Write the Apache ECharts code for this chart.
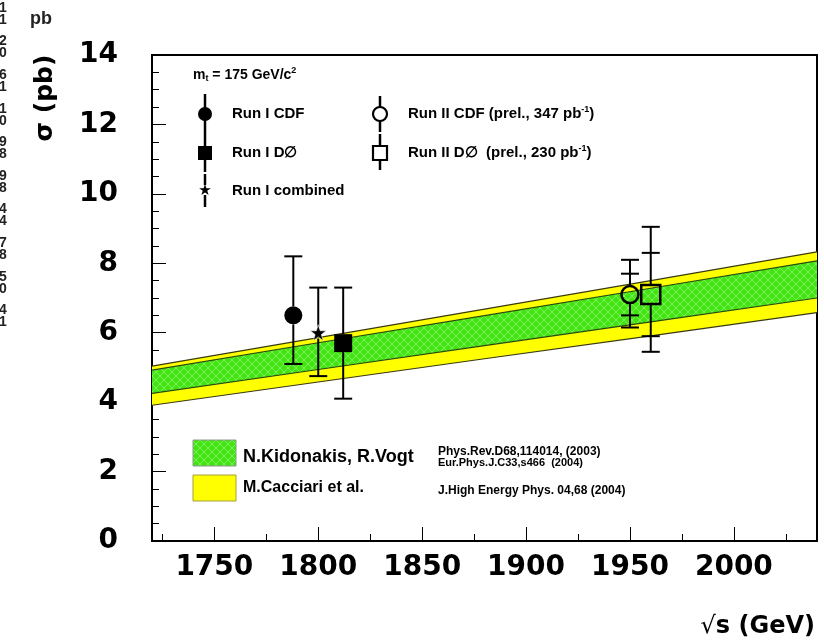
<!DOCTYPE html>
<html>
<head>
<meta charset="utf-8">
<script src="https://cdn.jsdelivr.net/npm/echarts@6/dist/echarts.min.js"></script>
<style>
  html, body { margin: 0; padding: 0; background: #fff; }
  #chart { width: 824px; height: 644px; }
</style>
</head>
<body>
<div id="chart"></div>
<script>
// Top-quark pair production cross section versus centre-of-mass energy

// Theory bands (sigma in pb) sampled along sqrt(s)
const sqrtS       = [1720, 1800, 1880, 1960, 2040];
const cacciariHi  = [5.04, 5.86, 6.68, 7.50, 8.33];
const cacciariLo  = [3.91, 4.58, 5.25, 5.91, 6.58];
const kidonakisHi = [4.92, 5.71, 6.49, 7.28, 8.07];
const kidonakisLo = [4.25, 4.94, 5.63, 6.31, 7.00];

// Measurements (Run I points drawn slightly apart around 1800 GeV)
const pointNames = ['Run I CDF', 'Run I D\u2205', 'Run I combined', 'Run II CDF', 'Run II D\u2205'];
const pointX     = [1788, 1812, 1800, 1950, 1960];
const pointY     = [6.5, 5.7, 6.0, 7.1, 7.1];
const totalLo    = [5.1, 4.1, 4.75, 6.15, 5.45];
const totalHi    = [8.2, 7.3, 7.3, 8.1, 9.05];
const statLo     = [NaN, NaN, NaN, 6.5, 5.9];
const statHi     = [NaN, NaN, NaN, 7.7, 8.3];

// Axis ticks
const xLabelValues = [1750, 1800, 1850, 1900, 1950, 2000];
const xMinorValues = [1725, 1775, 1825, 1875, 1925, 1975, 2025];

// Digits along the left border
const edgeDigits = ['1\n1', '2\n0', '6\n1', '1\n0', '9\n8', '9\n8', '4\n4', '7\n8', '5\n0', '4\n1'];

const FONT = 'DejaVu Sans';
const HFONT = 'Liberation Sans';
const STAR_PTS = [[50,0],[61.8,35.1],[98.5,35.1],[68.8,56.8],[80.2,91.9],[50,70.2],[19.8,91.9],[31.2,56.8],[1.5,35.1],[38.2,35.1]];
const STAR = 'path://M' + STAR_PTS.map(p => p.join(',')).join(' L') + ' Z';

// Cross-hatched green fill
function hatchPattern() {
  const n = 8;
  const cv = document.createElement('canvas');
  cv.width = n; cv.height = n;
  const g = cv.getContext('2d');
  g.fillStyle = '#44e414';
  g.fillRect(0, 0, n, n);
  g.strokeStyle = 'rgba(130,245,100,0.85)';
  g.lineWidth = 1;
  g.beginPath();
  g.moveTo(0, 0); g.lineTo(n, n);
  g.moveTo(n, 0); g.lineTo(0, n);
  g.stroke();
  return { image: cv, repeat: 'repeat' };
}
const GREEN = hatchPattern();

function bandRenderer(hi, lo, fill, edge) {
  return function (params, api) {
    if (params.dataIndex !== 0) return null;
    const up = sqrtS.map((s, k) => api.coord([s, hi[k]]));
    const dn = sqrtS.map((s, k) => api.coord([s, lo[k]])).reverse();
    return {
      type: 'group',
      children: [
        { type: 'polygon', shape: { points: up.concat(dn) }, style: { fill: fill, stroke: null } },
        { type: 'polyline', shape: { points: up }, style: { stroke: edge, lineWidth: 1.2, fill: null } },
        { type: 'polyline', shape: { points: dn }, style: { stroke: edge, lineWidth: 1.2, fill: null } }
      ]
    };
  };
}

const markerGap = [9, 9, 6, 9, 10];
function renderErrorBar(params, api) {
  const i = params.dataIndex;
  const x = api.value(0);
  const c = api.coord([x, api.value(1)]);
  const yLo = api.coord([x, api.value(2)])[1];
  const yHi = api.coord([x, api.value(3)])[1];
  const g = markerGap[i], w = 9;
  const st = { stroke: '#000', lineWidth: 2 };
  const kids = [
    { type: 'line', shape: { x1: c[0], y1: c[1] - g, x2: c[0], y2: yHi }, style: st },
    { type: 'line', shape: { x1: c[0], y1: c[1] + g, x2: c[0], y2: yLo }, style: st },
    { type: 'line', shape: { x1: c[0] - w, y1: yHi, x2: c[0] + w, y2: yHi }, style: st },
    { type: 'line', shape: { x1: c[0] - w, y1: yLo, x2: c[0] + w, y2: yLo }, style: st }
  ];
  const sLo = api.value(4), sHi = api.value(5);
  if (!isNaN(sLo) && !isNaN(sHi)) {
    const a = api.coord([x, sLo])[1], b = api.coord([x, sHi])[1];
    kids.push({ type: 'line', shape: { x1: c[0] - w, y1: a, x2: c[0] + w, y2: a }, style: st });
    kids.push({ type: 'line', shape: { x1: c[0] - w, y1: b, x2: c[0] + w, y2: b }, style: st });
  }
  return { type: 'group', children: kids };
}

const markerStyles = [
  { symbol: 'circle', symbolSize: 18, itemStyle: { color: '#000', opacity: 1 } },
  { symbol: 'rect', symbolSize: 18, itemStyle: { color: '#000', opacity: 1 } },
  { symbol: STAR, symbolSize: 16, itemStyle: { color: '#000', opacity: 1, borderColor: '#fff', borderWidth: 0.6 } },
  { symbol: 'circle', symbolSize: 17, itemStyle: { color: 'rgba(0,0,0,0)', opacity: 1, borderColor: '#000', borderWidth: 2.5 } },
  { symbol: 'rect', symbolSize: 19, itemStyle: { color: 'rgba(0,0,0,0)', opacity: 1, borderColor: '#000', borderWidth: 2.5 } }
];

const series = [
  {
    type: 'custom', name: 'M.Cacciari et al.', z: 1, clip: true,
    data: sqrtS.map((s, k) => [s, cacciariLo[k], cacciariHi[k]]),
    renderItem: bandRenderer(cacciariHi, cacciariLo, '#ffff00', '#3a3a10')
  },
  {
    type: 'custom', name: 'N.Kidonakis, R.Vogt', z: 2, clip: true,
    data: sqrtS.map((s, k) => [s, kidonakisLo[k], kidonakisHi[k]]),
    renderItem: bandRenderer(kidonakisHi, kidonakisLo, GREEN, '#2a4a10')
  },
  {
    type: 'custom', name: 'errors', z: 5,
    data: pointX.map((x, i) => [x, pointY[i], totalLo[i], totalHi[i], statLo[i], statHi[i]]),
    renderItem: renderErrorBar
  }
];
pointNames.forEach((name, i) => {
  series.push(Object.assign({
    type: 'scatter', name: name, z: 6,
    data: [[pointX[i], pointY[i]]]
  }, markerStyles[i]));
});

// Legend drawn inside the frame
const L = [];
function txt(x, y, text, size, extra) {
  L.push({
    type: 'text', x: x, y: y,
    style: Object.assign({ text: text, fill: '#000', font: 'bold ' + size + 'px "' + HFONT + '"', textVerticalAlign: 'middle' }, extra || {})
  });
}
function vbar(x, y1, y2) {
  L.push({ type: 'line', shape: { x1: x, y1: y1, x2: x, y2: y2 }, style: { stroke: '#000', lineWidth: 2.5 } });
}
function supText(size) {
  return {
    rich: {
      a: { font: 'bold ' + size + 'px "' + HFONT + '"', fill: '#000' },
      p: { font: 'bold 9px "' + HFONT + '"', fill: '#000', padding: [0, 0, 9, 0] },
      s: { font: 'bold 9px "' + HFONT + '"', fill: '#000', padding: [8, 0, 0, 0] }
    }
  };
}
// m_t line
txt(193, 75, '{a|m}{s|t}{a| = 175 GeV/c}{p|2}', 14, supText(14));
vbar(205, 94, 134); L.push({ type: 'circle', shape: { cx: 205, cy: 114, r: 7 }, style: { fill: '#000' } });
txt(232, 114, 'Run I CDF', 15);
vbar(205, 134, 172); L.push({ type: 'rect', shape: { x: 198, y: 146, width: 14, height: 14 }, style: { fill: '#000' } });
txt(232, 153, 'Run I D\u2205', 15);
vbar(205, 174, 185); vbar(205, 195, 207);
L.push({ type: 'polygon', shape: { points: STAR_PTS.map(p => [199 + p[0] * 0.12, 184 + p[1] * 0.12]) }, style: { fill: '#000' } });
txt(232, 191, 'Run I combined', 15);
vbar(380, 96, 107); vbar(380, 121, 132);
L.push({ type: 'circle', shape: { cx: 380, cy: 114, r: 7 }, style: { fill: 'none', stroke: '#000', lineWidth: 2.2 } });
txt(408, 114, '{a|Run II CDF (prel., 347 pb}{p|-1}{a|)}', 15, supText(15));
vbar(380, 134, 146); vbar(380, 160, 170);
L.push({ type: 'rect', shape: { x: 373, y: 146, width: 14, height: 14 }, style: { fill: 'none', stroke: '#000', lineWidth: 2.2 } });
txt(408, 153, '{a|Run II D\u2205  (prel., 230 pb}{p|-1}{a|)}', 15, supText(15));

// Theory legend boxes
L.push({ type: 'rect', shape: { x: 193, y: 440, width: 43, height: 26 }, style: { fill: GREEN, stroke: '#8a9a8a', lineWidth: 1 } });
L.push({ type: 'rect', shape: { x: 193, y: 475, width: 43, height: 26 }, style: { fill: '#ffff00', stroke: '#a0a040', lineWidth: 1 } });
txt(243, 457, 'N.Kidonakis, R.Vogt', 18);
txt(243, 488, 'M.Cacciari et al.', 16);
txt(438, 452, 'Phys.Rev.D68,114014, (2003)', 12);
txt(438, 463, 'Eur.Phys.J.C33,s466  (2004)', 11);
txt(438, 491, 'J.High Energy Phys. 04,68 (2004)', 12);

// Axis titles and border text
L.push({ type: 'text', x: 45, y: 98, rotation: Math.PI / 2,
  style: { text: '\u03c3 (pb)', fill: '#000', font: 'bold 25px "' + FONT + '"', textAlign: 'center', textVerticalAlign: 'middle' } });
L.push({ type: 'text', x: 815, y: 627,
  style: { text: '{r|\u221a}{b|s (GeV)}', textAlign: 'right', textVerticalAlign: 'middle',
    rich: { r: { font: '24px "' + FONT + '"', fill: '#000' }, b: { font: 'bold 24px "' + FONT + '"', fill: '#000' } } } });
L.push({ type: 'text', x: 30, y: 19, style: { text: 'pb', fill: '#222', font: 'bold 18px "' + HFONT + '"', textVerticalAlign: 'middle' } });
edgeDigits.forEach((d, k) => {
  L.push({ type: 'text', x: -1, y: 14 + k * 33.6,
    style: { text: d, fill: '#222', font: 'bold 14px "' + HFONT + '"', lineHeight: 12, textVerticalAlign: 'middle' } });
});

const chart = echarts.init(document.getElementById('chart'), null, { renderer: 'canvas' });
chart.setOption({
  backgroundColor: '#fff',
  animation: false,
  grid: { left: 152, top: 55, right: 7, bottom: 103, show: true, borderColor: '#000', borderWidth: 2, backgroundColor: 'rgba(0,0,0,0)' },
  xAxis: [
    {
      type: 'value', min: 1720, max: 2040,
      axisLine: { show: true, lineStyle: { color: '#000', width: 2 } },
      axisTick: { show: true, inside: true, length: 14, customValues: xLabelValues, lineStyle: { color: '#000', width: 1 } },
      axisLabel: { customValues: xLabelValues, formatter: v => String(v), color: '#000', fontSize: 28, fontWeight: 'bold', fontFamily: FONT, margin: 13 },
      splitLine: { show: false }
    },
    {
      type: 'value', min: 1720, max: 2040, position: 'bottom',
      axisLine: { show: false },
      axisTick: { show: true, inside: true, length: 7, customValues: xMinorValues, lineStyle: { color: '#000', width: 1 } },
      axisLabel: { show: false },
      splitLine: { show: false }
    }
  ],
  yAxis: {
    type: 'value', min: 0, max: 14, interval: 2,
    axisLine: { show: true, lineStyle: { color: '#000', width: 2 } },
    axisTick: { show: true, inside: true, length: 14, lineStyle: { color: '#000', width: 1 } },
    minorTick: { show: true, splitNumber: 4, length: 7, lineStyle: { color: '#000', width: 1 } },
    axisLabel: { color: '#000', fontSize: 28, fontWeight: 'bold', fontFamily: FONT, margin: 34 },
    splitLine: { show: false }
  },
  graphic: L,
  series: series
});
</script>
</body>
</html>
